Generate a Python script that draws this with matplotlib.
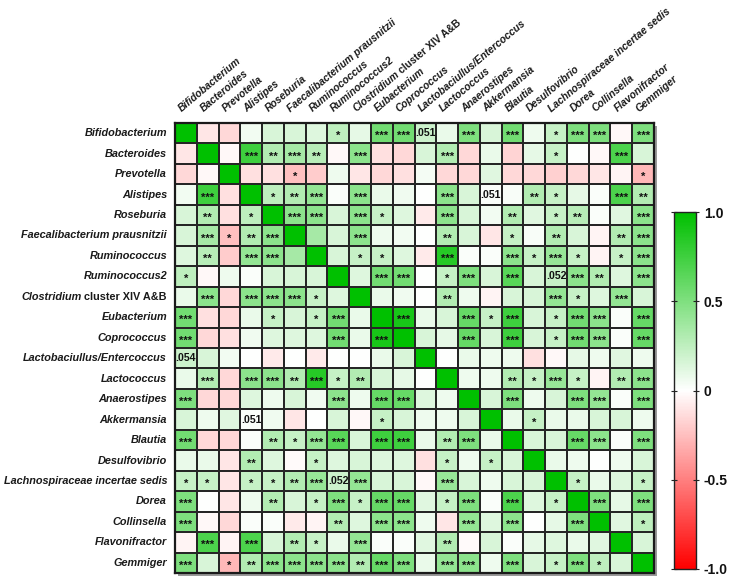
import numpy as np
import matplotlib
matplotlib.use("Agg")
import matplotlib.pyplot as plt
from matplotlib.colors import LinearSegmentedColormap
from matplotlib.patches import Rectangle
from matplotlib.font_manager import FontProperties

taxa = ["Bifidobacterium", "Bacteroides", "Prevotella", "Alistipes", "Roseburia",
        "Faecalibacterium prausnitzii", "Ruminococcus", "Ruminococcus2",
        "Clostridium cluster XIV A&B", "Eubacterium", "Coprococcus",
        "Lactobaciullus/Entercoccus", "Lactococcus", "Anaerostipes", "Akkermansia",
        "Blautia", "Desulfovibrio", "Lachnospiraceae incertae sedis", "Dorea",
        "Collinsella", "Flavonifractor", "Gemmiger"]

r_bif = [1, -0.1, -0.15, 0.05, 0.15, 0.15, 0.13, 0.25, 0.1, 0.55, 0.55, 0.2, 0.08, 0.5, 0.15, 0.55, 0.07, 0.22, 0.5, 0.5, -0.03, 0.5]
r_bac = [-0.1, 1, -0.03, 0.75, 0.3, 0.35, 0.28, -0.03, 0.45, -0.12, -0.15, 0.15, 0.3, -0.15, 0.08, -0.17, 0.1, 0.22, 0.0, -0.03, 0.7, 0.15]
r_pre = [-0.15, -0.03, 1, -0.12, -0.12, -0.25, -0.2, 0.07, -0.1, -0.15, -0.12, 0.04, -0.15, -0.15, 0.12, -0.15, -0.15, -0.18, -0.15, -0.1, -0.04, -0.28]
r_ali = [0.05, 0.75, -0.12, 1, 0.25, 0.3, 0.42, 0.02, 0.45, 0.08, 0.06, 0.0, 0.45, 0.15, 0.02, 0.03, 0.3, 0.22, 0.1, 0.02, 0.7, 0.3]
r_ros = [0.15, 0.3, -0.12, 0.25, 1, 0.45, 0.45, 0.15, 0.45, 0.22, 0.13, -0.08, 0.45, 0.15, 0.05, 0.3, 0.12, 0.22, 0.28, 0.02, 0.12, 0.45]
r_fae = [0.15, 0.35, -0.25, 0.3, 0.45, 1, 0.35, 0.15, 0.45, 0.07, 0.05, 0.0, 0.3, 0.15, -0.1, 0.22, 0.03, 0.3, 0.15, -0.04, 0.3, 0.45]
r_rum = [0.13, 0.28, -0.2, 0.42, 0.45, 0.35, 1, 0.15, 0.22, 0.22, 0.13, -0.08, 0.85, 0.02, 0.02, 0.45, 0.22, 0.4, 0.22, -0.04, 0.22, 0.45]
r_ru2 = [0.25, -0.03, 0.07, 0.02, 0.15, 0.15, 0.15, 1, 0.13, 0.55, 0.55, 0.0, 0.22, 0.5, 0.15, 0.65, 0.15, 0.22, 0.45, 0.3, 0.13, 0.45]
r_clo = [0.08, 0.45, -0.15, 0.45, 0.45, 0.45, 0.22, 0.13, 1, 0.08, 0.06, 0.0, 0.3, 0.07, -0.04, 0.15, 0.15, 0.42, 0.22, 0.13, 0.42, 0.15]
r_eub = [0.55, -0.12, -0.15, 0.08, 0.22, 0.15, 0.22, 0.55, 0.08, 1, 0.9, 0.08, 0.15, 0.6, 0.22, 0.75, 0.15, 0.22, 0.55, 0.45, 0.02, 0.6]
r_cop = [0.55, -0.15, -0.12, 0.06, 0.13, 0.13, 0.13, 0.55, 0.08, 0.9, 1, 0.15, 0.1, 0.6, 0.15, 0.75, 0.15, 0.22, 0.55, 0.45, 0.02, 0.6]
r_lae = [0.2, 0.15, 0.05, 0.0, -0.08, 0.0, -0.08, 0.0, 0.0, 0.08, 0.15, 1, 0.0, 0.08, 0.07, 0.07, -0.12, -0.03, 0.1, 0.07, 0.12, 0.07]
r_lac = [0.08, 0.3, -0.15, 0.45, 0.45, 0.3, 0.85, 0.22, 0.3, 0.15, 0.1, 0.0, 1, 0.07, 0.07, 0.3, 0.22, 0.4, 0.22, -0.04, 0.3, 0.45]
r_ana = [0.5, -0.15, -0.15, 0.13, 0.07, 0.15, 0.06, 0.45, 0.07, 0.6, 0.6, 0.13, 0.07, 1, 0.15, 0.5, 0.07, 0.15, 0.5, 0.42, 0.02, 0.5]
r_akk = [0.15, 0.07, 0.12, 0.02, 0.06, -0.1, 0.0, 0.15, -0.03, 0.22, 0.15, 0.07, 0.07, 0.15, 1, 0.08, 0.22, 0.08, 0.08, 0.15, 0.15, 0.07]
r_bla = [0.55, -0.15, -0.15, 0.02, 0.3, 0.22, 0.42, 0.65, 0.15, 0.75, 0.75, 0.08, 0.3, 0.5, 0.08, 1, 0.15, 0.15, 0.6, 0.45, 0.02, 0.5]
r_des = [0.08, 0.08, -0.1, 0.3, 0.13, -0.02, 0.22, 0.13, 0.15, 0.13, 0.13, -0.12, 0.22, 0.07, 0.22, 0.15, 1, 0.08, 0.07, 0.0, 0.07, 0.15]
r_lan = [0.22, 0.22, -0.1, 0.22, 0.22, 0.3, 0.4, 0.2, 0.42, 0.15, 0.15, -0.03, 0.4, 0.15, 0.07, 0.15, 0.15, 1, 0.22, 0.08, 0.13, 0.22]
r_dor = [0.5, 0.0, -0.1, 0.07, 0.3, 0.15, 0.22, 0.5, 0.22, 0.6, 0.6, 0.12, 0.22, 0.5, 0.02, 0.7, 0.13, 0.22, 1, 0.5, 0.1, 0.5]
r_col = [0.5, -0.03, -0.15, 0.02, 0.02, -0.08, -0.04, 0.3, 0.13, 0.45, 0.45, 0.07, -0.1, 0.42, 0.13, 0.45, 0.0, 0.1, 0.5, 1, 0.12, 0.25]
r_fla = [-0.04, 0.7, -0.04, 0.7, 0.15, 0.3, 0.22, 0.08, 0.42, 0.02, 0.02, 0.12, 0.3, -0.02, 0.15, 0.02, 0.1, 0.13, 0.08, 0.12, 1, 0.15]
r_gem = [0.5, 0.15, -0.28, 0.3, 0.45, 0.45, 0.45, 0.45, 0.3, 0.6, 0.5, 0.08, 0.42, 0.45, 0.07, 0.5, 0.15, 0.22, 0.5, 0.25, 0.15, 1]

corr = np.array([r_bif, r_bac, r_pre, r_ali, r_ros, r_fae, r_rum, r_ru2, r_clo, r_eub, r_cop,
                 r_lae, r_lac, r_ana, r_akk, r_bla, r_des, r_lan, r_dor, r_col, r_fla, r_gem])

# significance marks: {column index: mark} per row
s_bif = {7: "*", 9: "***", 10: "***", 11: ".051", 13: "***", 15: "***", 17: "*", 18: "***", 19: "***", 21: "***"}
s_bac = {3: "***", 4: "**", 5: "***", 6: "**", 8: "***", 12: "***", 17: "*", 20: "***"}
s_pre = {5: "*", 21: "*"}
s_ali = {1: "***", 4: "*", 5: "**", 6: "***", 8: "***", 12: "***", 14: ".051", 16: "**", 17: "*", 20: "***", 21: "**"}
s_ros = {1: "**", 3: "*", 5: "***", 6: "***", 8: "***", 9: "*", 12: "***", 15: "**", 17: "*", 18: "**", 21: "***"}
s_fae = {1: "***", 2: "*", 3: "**", 4: "***", 8: "***", 12: "**", 15: "*", 17: "**", 20: "**", 21: "***"}
s_rum = {1: "**", 3: "***", 4: "***", 8: "*", 9: "*", 12: "***", 15: "***", 16: "*", 17: "***", 18: "*", 20: "*", 21: "***"}
s_ru2 = {0: "*", 9: "***", 10: "***", 12: "*", 13: "***", 15: "***", 17: ".052", 18: "***", 19: "**", 21: "***"}
s_clo = {1: "***", 3: "***", 4: "***", 5: "***", 6: "*", 12: "**", 17: "***", 18: "*", 20: "***"}
s_eub = {0: "***", 4: "*", 6: "*", 7: "***", 10: "***", 13: "***", 14: "*", 15: "***", 17: "*", 18: "***", 19: "***", 21: "***"}
s_cop = {0: "***", 7: "***", 9: "***", 13: "***", 15: "***", 17: "*", 18: "***", 19: "***", 21: "***"}
s_lae = {0: ".054"}
s_lac = {1: "***", 3: "***", 4: "***", 5: "**", 6: "***", 7: "*", 8: "**", 15: "**", 16: "*", 17: "***", 18: "*", 20: "**", 21: "***"}
s_ana = {0: "***", 7: "***", 9: "***", 10: "***", 15: "***", 18: "***", 19: "***", 21: "***"}
s_akk = {3: ".051", 9: "*", 16: "*"}
s_bla = {0: "***", 4: "**", 5: "*", 6: "***", 7: "***", 9: "***", 10: "***", 12: "**", 13: "***", 18: "***", 19: "***", 21: "***"}
s_des = {3: "**", 6: "*", 12: "*", 14: "*"}
s_lan = {0: "*", 1: "*", 3: "*", 4: "*", 5: "**", 6: "***", 7: ".052", 8: "***", 12: "***", 18: "*", 21: "*"}
s_dor = {0: "***", 4: "**", 6: "*", 7: "***", 8: "*", 9: "***", 10: "***", 12: "*", 13: "***", 15: "***", 17: "*", 19: "***", 21: "***"}
s_col = {0: "***", 7: "**", 9: "***", 10: "***", 13: "***", 15: "***", 18: "***", 21: "*"}
s_fla = {1: "***", 3: "***", 5: "**", 6: "*", 8: "***", 12: "**"}
s_gem = {0: "***", 2: "*", 3: "**", 4: "***", 5: "***", 6: "***", 7: "***", 8: "**", 9: "***", 10: "***",
         12: "***", 13: "***", 15: "***", 17: "*", 18: "***", 19: "*"}

marks = [s_bif, s_bac, s_pre, s_ali, s_ros, s_fae, s_rum, s_ru2, s_clo, s_eub, s_cop,
         s_lae, s_lac, s_ana, s_akk, s_bla, s_des, s_lan, s_dor, s_col, s_fla, s_gem]

cbar_ticks = [-1.0, -0.5, 0.0, 0.5, 1.0]
cbar_labels = ["-1.0", "-0.5", "0", "0.5", "1.0"]

FONT = "Liberation Sans"
LBL = "#1a1a1a"
W, H = 731, 580

fig = plt.figure(figsize=(W / 100, H / 100), dpi=100)
fig.patch.set_facecolor("white")

gx0, gx1, gy0, gy1 = 175, 654, 123, 573
ax = fig.add_axes([gx0 / W, 1 - gy1 / H, (gx1 - gx0) / W, (gy1 - gy0) / H])
ax.set_zorder(2)

# drop shadow behind grid
shadow = Rectangle(((gx0 + 3) / W, 1 - (gy1 + 3) / H), (gx1 - gx0) / W, (gy1 - gy0) / H,
                   transform=fig.transFigure, facecolor="#9a9a9a", edgecolor="none", zorder=1)
fig.patches.append(shadow)

cmap = LinearSegmentedColormap.from_list("rwg", ["#ff0000", "#ffffff", "#00c000"])
n = len(taxa)
mesh = ax.pcolormesh(np.arange(n + 1), np.arange(n + 1), corr, cmap=cmap, vmin=-1, vmax=1,
                     edgecolors="#262626", linewidth=1.2)
ax.set_xlim(0, n)
ax.set_ylim(n, 0)
ax.set_xticks([])
ax.set_yticks([])
for sp in ax.spines.values():
    sp.set_linewidth(1.6)
    sp.set_color("#1a1a1a")

for i, row in enumerate(marks):
    for j, m in row.items():
        if m.startswith("."):
            ax.text(j + 0.5, i + 0.5, m, ha="center", va="center", fontsize=7.6,
                    fontweight="bold", family=FONT, color="#111111")
        else:
            ax.text(j + 0.5, i + 0.64, m, ha="center", va="center", fontsize=8,
                    fontweight="bold", family=FONT, color="#111111")

renderer = fig.canvas.get_renderer()
fs_row = 7.8
fs_col = 7.4
fp_it_r = FontProperties(family=FONT, weight="bold", style="italic", size=fs_row)
fp_rm_r = FontProperties(family=FONT, weight="bold", style="normal", size=fs_row)
fp_it_c = FontProperties(family=FONT, weight="bold", style="italic", size=fs_col)
fp_rm_c = FontProperties(family=FONT, weight="bold", style="normal", size=fs_col)


def text_w(s, fp):
    w, h, d = renderer.get_text_width_height_descent(s, fp, ismath=False)
    return w


# row labels
for i, name in enumerate(taxa):
    if name.startswith("Clostridium"):
        rest = "cluster XIV A&B"
        gap = text_w("a a", fp_rm_r) - text_w("aa", fp_rm_r)
        ax.annotate(rest, xy=(0, i + 0.5), xycoords="data", xytext=(-8, 0), textcoords="offset pixels",
                    ha="right", va="center", fontproperties=fp_rm_r, color=LBL, annotation_clip=False)
        wr = text_w(rest, fp_rm_r) + gap
        ax.annotate("Clostridium", xy=(0, i + 0.5), xycoords="data", xytext=(-8 - wr, 0),
                    textcoords="offset pixels", ha="right", va="center", fontproperties=fp_it_r,
                    color=LBL, annotation_clip=False)
    else:
        ax.annotate(name, xy=(0, i + 0.5), xycoords="data", xytext=(-8, 0), textcoords="offset pixels",
                    ha="right", va="center", fontproperties=fp_it_r, color=LBL, annotation_clip=False)

# column labels
ang = 40
ca, sa = np.cos(np.radians(ang)), np.sin(np.radians(ang))
ox, oy = -4, 11
for j, name in enumerate(taxa):
    if name.startswith("Clostridium"):
        first = "Clostridium"
        rest = "cluster XIV A&B"
        gap = text_w("a a", fp_rm_c) - text_w("aa", fp_rm_c)
        ax.annotate(first, xy=(j + 0.5, 0), xycoords="data", xytext=(ox, oy), textcoords="offset pixels",
                    ha="left", va="baseline", rotation=ang, rotation_mode="anchor",
                    fontproperties=fp_it_c, color=LBL, annotation_clip=False)
        wf = text_w(first, fp_it_c) + gap
        ax.annotate(rest, xy=(j + 0.5, 0), xycoords="data",
                    xytext=(ox + wf * ca, oy + wf * sa), textcoords="offset pixels",
                    ha="left", va="baseline", rotation=ang, rotation_mode="anchor",
                    fontproperties=fp_rm_c, color=LBL, annotation_clip=False)
    else:
        ax.annotate(name, xy=(j + 0.5, 0), xycoords="data", xytext=(ox, oy), textcoords="offset pixels",
                    ha="left", va="baseline", rotation=ang, rotation_mode="anchor",
                    fontproperties=fp_it_c, color=LBL, annotation_clip=False)

# colorbar
cx0, cx1, cy0, cy1 = 674, 696, 212, 569
cax = fig.add_axes([cx0 / W, 1 - cy1 / H, (cx1 - cx0) / W, (cy1 - cy0) / H])
cb = fig.colorbar(mesh, cax=cax, ticks=cbar_ticks)
cb.ax.set_yticklabels(cbar_labels)
cb.outline.set_linewidth(1.0)
cb.outline.set_edgecolor("#222222")
cax.tick_params(axis="y", which="both", left=True, right=True, direction="inout", length=5,
                width=0.8, pad=3, colors="#222222")
for t in cax.get_yticklabels():
    t.set_fontfamily(FONT)
    t.set_fontweight("bold")
    t.set_fontsize(10)
    t.set_color("#111111")

fig.savefig("out.png", dpi=100)
